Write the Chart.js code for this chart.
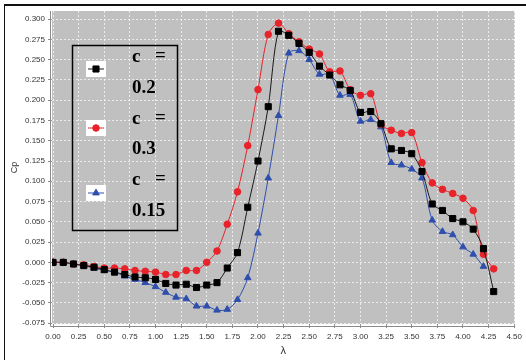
<!DOCTYPE html>
<html>
<head>
<meta charset="utf-8">
<script src="https://cdn.jsdelivr.net/npm/chart.js@4.4.0/dist/chart.umd.min.js"></script>
<style>
  html, body { margin: 0; padding: 0; background: #fff; }
  #wrap { position: relative; width: 526px; height: 360px; }
</style>
</head>
<body>
<div id="wrap"><canvas id="cpChart" width="526" height="360"></canvas></div>
<script>
// tip speed ratio, step 0.1
const lambdas = [0.0, 0.1, 0.2, 0.3, 0.4, 0.5, 0.6, 0.7, 0.8, 0.9,
  1.0, 1.1, 1.2, 1.3, 1.4, 1.5, 1.6, 1.7, 1.8, 1.9,
  2.0, 2.1, 2.2, 2.3, 2.4, 2.5, 2.6, 2.7, 2.8, 2.9,
  3.0, 3.1, 3.2, 3.3, 3.4, 3.5, 3.6, 3.7, 3.8, 3.9,
  4.0, 4.1, 4.2, 4.3];

// Cp for c = 0.2
const cp02 = [0.000, 0.000, -0.002, -0.004, -0.006, -0.009, -0.012, -0.015, -0.018, -0.019,
  -0.021, -0.026, -0.028, -0.027, -0.031, -0.028, -0.025, -0.007, 0.012, 0.068,
  0.125, 0.192, 0.285, 0.280, 0.270, 0.259, 0.242, 0.231, 0.219, 0.212,
  0.185, 0.186, 0.171, 0.140, 0.138, 0.134, 0.112, 0.072, 0.064, 0.054,
  0.050, 0.041, 0.017, -0.036];

// Cp for c = 0.3
const cp03 = [0.000, 0.000, -0.002, -0.003, -0.005, -0.007, -0.007, -0.008, -0.010, -0.011,
  -0.012, -0.015, -0.015, -0.010, -0.010, 0.000, 0.014, 0.047, 0.087, 0.144,
  0.213, 0.281, 0.295, 0.282, 0.272, 0.263, 0.257, 0.235, 0.236, 0.213,
  0.206, 0.208, 0.170, 0.163, 0.159, 0.160, 0.123, 0.098, 0.090, 0.085,
  0.079, 0.064, 0.010, -0.008];

// Cp for c = 0.15 (ends at 4.2)
const cp015 = [0.000, 0.000, -0.002, -0.004, -0.007, -0.010, -0.012, -0.017, -0.021, -0.025,
  -0.030, -0.037, -0.043, -0.045, -0.054, -0.054, -0.059, -0.058, -0.046, -0.019,
  0.036, 0.104, 0.181, 0.258, 0.261, 0.250, 0.232, 0.232, 0.206, 0.207,
  0.174, 0.176, 0.167, 0.123, 0.120, 0.115, 0.104, 0.052, 0.038, 0.034,
  0.019, 0.010, -0.005];

const xTicks = [0, 0.25, 0.5, 0.75, 1, 1.25, 1.5, 1.75, 2, 2.25, 2.5, 2.75, 3, 3.25, 3.5, 3.75, 4, 4.25, 4.5];
const yTicks = [-0.075, -0.05, -0.025, 0, 0.025, 0.05, 0.075, 0.1, 0.125, 0.15, 0.175, 0.2, 0.225, 0.25, 0.275, 0.3];

const seriesLabels = ['c = 0.2', 'c = 0.3', 'c = 0.15'];

function toPoints(values) {
  return values.map((v, i) => ({ x: lambdas[i], y: v }));
}

const plotBackground = {
  id: 'plotBackground',
  beforeDraw(chart) {
    const { ctx, chartArea: a } = chart;
    ctx.save();
    ctx.fillStyle = '#c0c0c0';
    ctx.fillRect(a.left, a.top, a.right - a.left, a.bottom - a.top);
    ctx.restore();
  },
  afterDraw(chart) {
    const { ctx, chartArea: a } = chart;
    ctx.save();
    // axis lines, a little off the plot
    ctx.strokeStyle = '#8c8c8c';
    ctx.lineWidth = 1;
    ctx.beginPath();
    ctx.moveTo(a.left - 1.5, a.top);
    ctx.lineTo(a.left - 1.5, a.bottom + 2.5);
    ctx.lineTo(a.right, a.bottom + 2.5);
    ctx.stroke();
    // outer frame
    ctx.fillStyle = '#111';
    ctx.fillRect(4, 4, 522, 2);
    ctx.fillRect(4, 4, 1, 356);
    ctx.restore();
  }
};

const boxLegend = {
  id: 'boxLegend',
  afterDatasetsDraw(chart) {
    const ctx = chart.ctx;
    ctx.save();
    ctx.strokeStyle = '#000';
    ctx.lineWidth = 1.5;
    ctx.strokeRect(72.5, 45.5, 105, 185);

    const rows = [69, 128, 193];
    const valueBase = [93, 154, 216];
    const cBase = [62, 124, 185];
    chart.data.datasets.forEach((ds, i) => {
      const cy = rows[i];
      ctx.fillStyle = '#fff';
      ctx.fillRect(86, cy - 8, 20, 16);
      ctx.strokeStyle = ds.borderColor;
      ctx.lineWidth = 1;
      ctx.beginPath();
      ctx.moveTo(88, cy);
      ctx.lineTo(104, cy);
      ctx.stroke();
      ctx.fillStyle = ds.pointBackgroundColor;
      ctx.strokeStyle = ds.pointBackgroundColor;
      Chart.helpers.drawPoint(ctx, {
        pointStyle: ds.pointStyle, radius: ds.pointRadius, borderWidth: 1
      }, 96, cy);

      const parts = seriesLabels[i].split(' ');
      ctx.fillStyle = '#000';
      ctx.font = 'bold 19px "Liberation Serif"';
      ctx.textBaseline = 'alphabetic';
      ctx.fillText(parts[0], 132, cBase[i]);
      ctx.fillText(parts[1], 155, cBase[i] - 1);
      ctx.fillText(parts[2], 132, valueBase[i]);
    });
    ctx.restore();
  }
};

const ctx = document.getElementById('cpChart').getContext('2d');

const chart = new Chart(ctx, {
  type: 'line',
  data: {
    datasets: [{
      label: seriesLabels[0],
      data: toPoints(cp02),
      borderColor: '#1a1a1a',
      backgroundColor: '#000',
      pointBackgroundColor: '#000',
      pointBorderColor: '#000',
      pointStyle: 'rect',
      pointRadius: 4.3,
      borderWidth: 1,
      tension: 0.3
    }, {
      label: seriesLabels[1],
      data: toPoints(cp03),
      borderColor: '#e8232a',
      backgroundColor: '#e8232a',
      pointBackgroundColor: '#e8232a',
      pointBorderColor: '#e8232a',
      pointStyle: 'circle',
      pointRadius: 3.3,
      borderWidth: 1,
      tension: 0.3
    }, {
      label: seriesLabels[2],
      data: toPoints(cp015),
      borderColor: '#2f4fae',
      backgroundColor: '#2f4fae',
      pointBackgroundColor: '#2f4fae',
      pointBorderColor: '#2f4fae',
      pointStyle: 'triangle',
      pointRadius: 3.8,
      borderWidth: 1,
      tension: 0.3
    }]
  },
  options: {
    responsive: false,
    animation: false,
    layout: { padding: { top: 11, right: 6, left: 0, bottom: 0 } },
    plugins: {
      legend: { display: false },
      tooltip: { enabled: false }
    },
    scales: {
      x: {
        type: 'linear',
        min: -0.01,
        max: 4.505,
        afterBuildTicks: scale => { scale.ticks = xTicks.map(v => ({ value: v })); },
        afterFit: scale => { scale.height = 36; },
        ticks: {
          callback: v => Number(v).toFixed(2),
          font: { family: 'Liberation Sans', size: 8 },
          color: '#333',
          maxRotation: 0,
          autoSkip: false,
          padding: 4
        },
        grid: {
          color: 'rgba(255,255,255,0.7)',
          tickColor: '#8c8c8c',
          tickLength: 4
        },
        border: { display: false, dash: [2, 2] },
        title: {
          display: true,
          text: 'λ',
          font: { family: 'Liberation Sans', size: 11 },
          color: '#333',
          padding: { top: 0, bottom: 2 }
        }
      },
      y: {
        min: -0.076,
        max: 0.31,
        afterBuildTicks: scale => { scale.ticks = yTicks.map(v => ({ value: v })); },
        afterFit: scale => { scale.width = 52; },
        ticks: {
          callback: v => Number(v).toFixed(3),
          font: { family: 'Liberation Sans', size: 8 },
          color: '#333',
          autoSkip: false,
          padding: 3
        },
        grid: {
          color: 'rgba(255,255,255,0.7)',
          tickColor: '#8c8c8c',
          tickLength: 4
        },
        border: { display: false, dash: [2, 2] },
        title: {
          display: true,
          text: 'Cp',
          font: { family: 'Liberation Sans', size: 9 },
          color: '#333',
          padding: { top: 9, bottom: 0 }
        }
      }
    }
  },
  plugins: [plotBackground, boxLegend]
});
</script>
</body>
</html>
